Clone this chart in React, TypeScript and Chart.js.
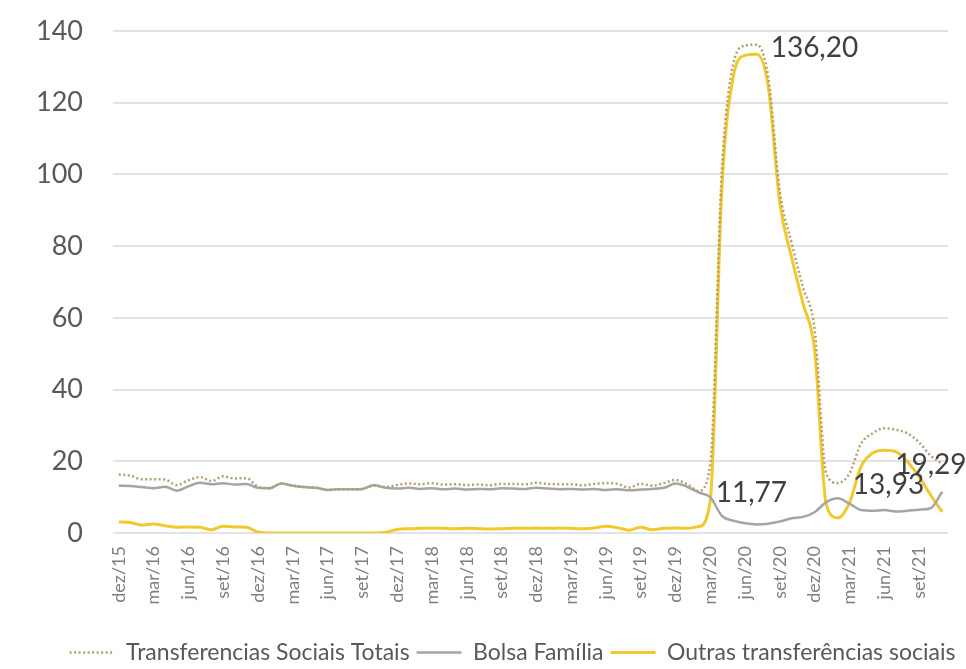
import React, { useEffect, useRef } from 'react';
import { Chart, registerables } from 'chart.js';

Chart.register(...registerables);

const months = [
  'dez/15',
  'jan/16', 'fev/16', 'mar/16', 'abr/16', 'mai/16', 'jun/16', 'jul/16', 'ago/16', 'set/16', 'out/16', 'nov/16', 'dez/16',
  'jan/17', 'fev/17', 'mar/17', 'abr/17', 'mai/17', 'jun/17', 'jul/17', 'ago/17', 'set/17', 'out/17', 'nov/17', 'dez/17',
  'jan/18', 'fev/18', 'mar/18', 'abr/18', 'mai/18', 'jun/18', 'jul/18', 'ago/18', 'set/18', 'out/18', 'nov/18', 'dez/18',
  'jan/19', 'fev/19', 'mar/19', 'abr/19', 'mai/19', 'jun/19', 'jul/19', 'ago/19', 'set/19', 'out/19', 'nov/19', 'dez/19',
  'jan/20', 'fev/20', 'mar/20', 'abr/20', 'mai/20', 'jun/20', 'jul/20', 'ago/20', 'set/20', 'out/20', 'nov/20', 'dez/20',
  'jan/21', 'fev/21', 'mar/21', 'abr/21', 'mai/21', 'jun/21', 'jul/21', 'ago/21', 'set/21', 'out/21', 'nov/21',
];

const totais = [
  16.3, 16.0, 15.0, 15.0, 14.9, 13.4, 14.7, 15.6, 14.5, 15.8, 15.2, 15.3,
  12.9, 12.5, 13.8, 13.2, 12.8, 12.6, 12.0, 12.2, 12.2, 12.3, 13.3, 12.8,
  13.4, 13.8, 13.6, 13.9, 13.5, 13.6, 13.4, 13.5, 13.3, 13.7, 13.7, 13.6,
  14.0, 13.7, 13.6, 13.6, 13.3, 13.7, 13.9, 13.7, 12.7, 13.7, 13.2, 13.9,
  14.8, 13.6, 11.77, 19.0, 101, 131, 135.9, 136.2, 127.1, 95.2, 81.1, 68.5,
  56.8, 16.6, 13.93, 16.6, 24.9, 27.8, 29.2, 28.8, 27.8, 25.3, 21.6, 19.29,
];

const bolsaFamilia = [
  13.2, 13.1, 12.8, 12.5, 12.9, 11.8, 13.0, 14.0, 13.6, 13.9, 13.5, 13.7,
  12.6, 12.5, 13.8, 13.2, 12.8, 12.6, 12.0, 12.2, 12.2, 12.3, 13.3, 12.6,
  12.4, 12.6, 12.3, 12.5, 12.2, 12.4, 12.1, 12.3, 12.2, 12.5, 12.4, 12.3,
  12.6, 12.4, 12.2, 12.3, 12.1, 12.3, 12.0, 12.2, 11.9, 12.1, 12.3, 12.6,
  13.8, 12.9, 11.3, 10.0, 4.8, 3.4, 2.7, 2.4, 2.6, 3.2, 4.1, 4.5,
  5.8, 8.6, 9.7, 8.2, 6.4, 6.2, 6.4, 6.0, 6.2, 6.5, 6.9, 11.5,
];

const outras = [
  3.1, 2.9, 2.2, 2.5, 2.0, 1.6, 1.7, 1.6, 0.9, 1.9, 1.7, 1.6,
  0.3, 0, 0, 0, 0, 0, 0, 0, 0, 0, 0, 0.2,
  1.0, 1.2, 1.3, 1.4, 1.3, 1.2, 1.3, 1.2, 1.1, 1.2, 1.3, 1.3,
  1.4, 1.3, 1.4, 1.3, 1.2, 1.4, 1.9, 1.5, 0.8, 1.6, 0.9, 1.3,
  1.4, 1.3, 1.8, 9.0, 96, 127.5, 133.2, 133.5, 124.5, 92, 77, 64,
  51, 8.0, 4.2, 8.4, 18.5, 22.3, 23.1, 22.7, 19.9, 15.7, 10.6, 5.9,
];

const seriesNames = ['Transferencias Sociais Totais', 'Bolsa Família', 'Outras transferências sociais'];

// data labels: which series / month gets a value label
const pointLabels = [
  { series: 0, index: 55, dx: 14, dy: 3 },
  { series: 0, index: 50, dx: 17, dy: 2 },
  { series: 0, index: 62, dx: 15, dy: 2 },
  { series: 0, index: 71, dx: -47, dy: 1 },
];

const FONT = 'Lato, "Open Sans", sans-serif';

const labelPlugin = {
  id: 'valueLabels',
  afterDatasetsDraw(chart: any) {
    const ctx = chart.ctx;
    const xs = chart.scales.x;
    const ys = chart.scales.y;
    ctx.save();
    ctx.font = `28px ${FONT}`;
    ctx.fillStyle = '#404040';
    ctx.textBaseline = 'middle';
    ctx.textAlign = 'left';
    for (const l of pointLabels) {
      const v = chart.data.datasets[l.series].data[l.index] as number;
      const x = xs.getPixelForValue(l.index);
      const y = ys.getPixelForValue(v);
      ctx.fillText(v.toFixed(2).replace('.', ','), x + l.dx, y + l.dy);
    }
    ctx.restore();
  },
  beforeDraw(chart: any) {
    const lg = chart.legend;
    if (lg) {
      lg.left = 59;
      lg.right = 966;
      lg.top += 5;
      lg.bottom += 5;
    }
  },
};

export default function App() {
  const ref = useRef<HTMLCanvasElement | null>(null);

  useEffect(() => {
    if (!ref.current) return;
    const chart = new Chart(ref.current, {
      type: 'line',
      data: {
        labels: months,
        datasets: [
          {
            label: seriesNames[0],
            data: totais,
            borderColor: '#B59E72',
            backgroundColor: '#B59E72',
            borderWidth: 2.5,
            borderDash: [2, 2.5],
            pointRadius: 0,
            cubicInterpolationMode: 'monotone',
          },
          {
            label: seriesNames[1],
            data: bolsaFamilia,
            borderColor: '#A5A5A5',
            backgroundColor: '#A5A5A5',
            borderWidth: 2.5,
            pointRadius: 0,
            cubicInterpolationMode: 'monotone',
          },
          {
            label: seriesNames[2],
            data: outras,
            borderColor: '#F0C92C',
            backgroundColor: '#F0C92C',
            borderWidth: 3,
            pointRadius: 0,
            cubicInterpolationMode: 'monotone',
          },
        ],
      },
      options: {
        animation: false,
        responsive: false,
        devicePixelRatio: 1,
        layout: { padding: { top: 31, left: 0, right: 18, bottom: 0 } },
        plugins: {
          tooltip: { enabled: false },
          legend: {
            position: 'bottom',
            labels: {
              usePointStyle: true,
              pointStyle: 'line',
              pointStyleWidth: 45,
              padding: 7,
              color: '#595959',
              font: { family: FONT, size: 23 },
              generateLabels: (c: any) => {
                const items = Chart.defaults.plugins.legend.labels.generateLabels(c);
                items.forEach((it: any, i: number) => {
                  const ds: any = c.data.datasets[i];
                  it.lineDash = ds.borderDash || [];
                  it.lineWidth = ds.borderWidth;
                  it.strokeStyle = ds.borderColor;
                  it.pointStyle = 'line';
                });
                return items;
              },
            },
          },
        },
        scales: {
          x: {
            offset: true,
            grid: {
              display: true,
              drawOnChartArea: false,
              drawTicks: true,
              tickLength: 13,
              tickColor: 'rgba(0,0,0,0)',
              color: 'rgba(0,0,0,0)',
            },
            border: { display: false },
            ticks: {
              autoSkip: false,
              minRotation: 90,
              maxRotation: 90,
              padding: 0,
              color: '#7F7F7F',
              font: { family: FONT, size: 18 },
              callback: (_v: any, i: number) => (i % 3 === 0 ? months[i] : ''),
            },
            afterFit: (s: any) => {
              s.height = 96;
            },
          },
          y: {
            min: 0,
            max: 140,
            grid: {
              color: '#E3E3E3',
              lineWidth: 2,
              drawTicks: true,
              tickLength: 30,
              tickColor: 'rgba(0,0,0,0)',
            },
            border: { display: false },
            ticks: {
              stepSize: 20,
              padding: 0,
              color: '#595959',
              font: { family: FONT, size: 27 },
            },
            afterFit: (s: any) => {
              s.width = 113;
            },
          },
        },
      },
      plugins: [labelPlugin],
    });
    return () => chart.destroy();
  }, []);

  return (
    <div style={{ position: 'absolute', left: 0, top: 0, width: 966, height: 669, background: '#fff' }}>
      <canvas ref={ref} width={966} height={669} style={{ width: 966, height: 669 }} />
    </div>
  );
}
